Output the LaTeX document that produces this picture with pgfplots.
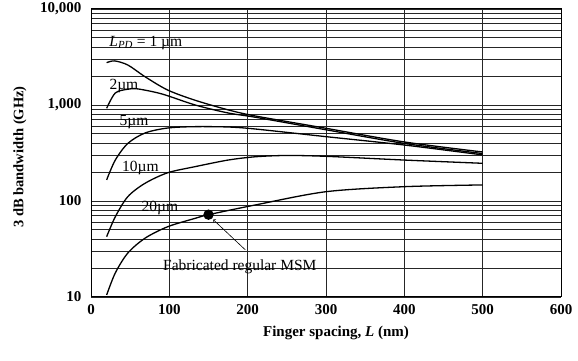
\documentclass[border=0pt]{standalone}
\usepackage{fontspec}
\setmainfont{Liberation Serif}
\usepackage{pgfplots}
\pgfplotsset{compat=1.18}

\begin{document}
\begin{tikzpicture}[x=1pt,y=1pt]
% page frame: axis box is 470 x 288 with its lower left corner at the origin
\useasboundingbox (-91,-64) rectangle (487,297);
\begin{axis}[
  at={(0,0)}, anchor=south west,
  scale only axis, width=470pt, height=288pt,
  xmin=0, xmax=600, ymin=10, ymax=10000, ymode=log,
  xtick={0,100,...,600},
  ytick={10,100,1000,10000},
  yticklabels={10,100,{1,000},{10,000}},
  /pgf/number format/assume math mode=true,
  ticklabel style={font=\fontsize{15}{17}\selectfont\bfseries},
  xticklabel style={yshift=-4pt},
  yticklabel style={xshift=-6pt},
  grid=both,
  major grid style={black!85, line width=0.8pt},
  minor grid style={black!85, line width=0.8pt},
  major tick length=0pt, minor tick length=0pt,
  axis line style={black, line width=1pt},
  cycle list={{black}},
  every axis plot post/.append style={no markers, line width=1.3pt, smooth, tension=0.5},
]
% L_PD = 1 um
\addplot coordinates {(20,2760)(30,2880)(47,2610)(69,1970)(98,1430)(133,1120)(175,890)(210,768)(300,572)(400,412)(500,324)};
% 2 um
\addplot coordinates {(20,925)(31,1333)(47,1460)(60,1470)(91,1300)(133,1000)(175,826)(210,745)(300,552)(400,398)(500,312)};
% 5 um
\addplot coordinates {(20,166)(31,267)(47,398)(69,511)(98,576)(133,595)(175,590)(210,562)(300,468)(400,383)(500,302)};
% 10 um
\addplot coordinates {(20,42.5)(31,68.5)(47,111)(69,153)(98,197)(133,228)(175,267)(210,289)(250,298)(300,292)(400,267)(500,247)};
% 20 um
\addplot coordinates {(20,10.5)(31,17.8)(47,28.7)(69,41)(98,54)(133,66)(150,72)(210,91)(300,125)(400,141)(500,147)};
% fabricated device
\addplot[black, only marks, mark=*, mark size=4.5pt, mark options={fill=black}] coordinates {(150,72)};

\draw[->, black, line width=0.6pt] (axis cs:197,31) -- (axis cs:156,64);

\begin{scope}[every node/.style={font=\fontsize{15.5}{17}\selectfont, inner sep=1pt}]
\node at (axis cs:70,4430) {\textit{L}\textsubscript{\textit{PD}} = 1 µm};
\node at (axis cs:42,1580) {2µm};
\node at (axis cs:55,665) {5µm};
\node at (axis cs:63,221) {10µm};
\node at (axis cs:88,84.5) {20µm};
\node at (axis cs:190,20.5) {Fabricated regular MSM};
\end{scope}
\end{axis}
\node[rotate=90, font=\fontsize{14.5}{16}\selectfont\bfseries] at (-71,140) {3 dB bandwidth (GHz)};
\node[font=\fontsize{15}{17}\selectfont\bfseries] at (245,-36) {Finger spacing, \textit{L} (nm)};
\end{tikzpicture}
\end{document}
